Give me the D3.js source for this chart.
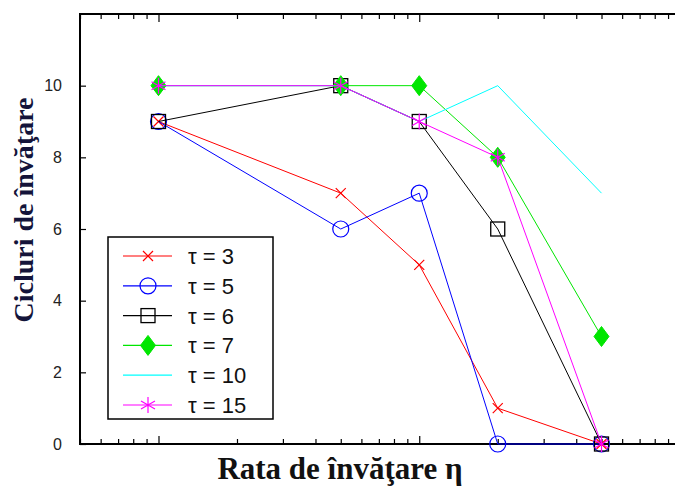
<!DOCTYPE html>
<html>
<head>
<meta charset="utf-8">
<title>Cicluri de învăţare</title>
<script src="https://cdn.jsdelivr.net/npm/d3@7"></script>
<style>
  body { margin: 0; background: #fff; }
  svg { display: block; }
  .tick text { font-family: Arial, "Liberation Sans", sans-serif; font-size: 16px; fill: #222; }
  .title { font-family: "Times New Roman", "Liberation Serif", serif; font-weight: bold; fill: #111; }
  .leg text { font-family: Arial, "Liberation Sans", sans-serif; font-size: 22px; fill: #111; }
</style>
</head>
<body>
<div id="chart"></div>
<script>
// learning rates (log axis, no labels in the original)
var rates = [0.001, 0.005, 0.01, 0.02, 0.05];
var taus = ["3", "5", "6", "7", "10", "15"];
var cycles3 = [9, 7, 5, 1, 0];
var cycles5 = [9, 6, 7, 0, 0];
var cycles6 = [9, 10, 9, 6, 0];
var cycles7 = [10, 10, 10, 8, 3];
var cycles10 = [10, 10, 9, 10, 7];
var cycles15 = [10, 10, 9, 8, 0];
var yTicks = [0, 2, 4, 6, 8, 10];

var series = [
  {tau: taus[0], vals: cycles3, color: "#ff0000", mark: "x"},
  {tau: taus[1], vals: cycles5, color: "#0000ff", mark: "circle"},
  {tau: taus[2], vals: cycles6, color: "#000000", mark: "square"},
  {tau: taus[3], vals: cycles7, color: "#00e600", mark: "diamond"},
  {tau: taus[4], vals: cycles10, color: "#00ffff", mark: "none"},
  {tau: taus[5], vals: cycles15, color: "#ff00ff", mark: "star"}
];

var W = 675, H = 488;
var pLeft = 80, pTop = 14, pBottom = 444, pRight = 680;

var svg = d3.select("#chart").append("svg")
  .attr("width", W).attr("height", H);

var x = d3.scaleLog().domain([0.0005, 0.1]).range([pLeft, pRight]);
var y = d3.scaleLinear().domain([0, 12]).range([pBottom, pTop]);

// x ticks (bottom + mirrored on top), no labels
var xt = x.ticks();
function isMajor(d) { return Math.abs(Math.log10(d) - Math.round(Math.log10(d))) < 1e-6; }

svg.append("g")
  .attr("transform", "translate(0," + pBottom + ")")
  .call(d3.axisBottom(x).tickValues(xt).tickFormat("").tickSizeOuter(0).tickSize(-5))
  .call(function(g) {
    g.select(".domain").remove();
    g.selectAll(".tick line").attr("y2", function(d) { return isMajor(d) ? -8 : -5; })
      .attr("stroke", "#000").attr("stroke-width", 1.2);
  });

svg.append("g")
  .attr("transform", "translate(0," + pTop + ")")
  .call(d3.axisTop(x).tickValues(xt).tickFormat("").tickSizeOuter(0).tickSize(-5))
  .call(function(g) {
    g.select(".domain").remove();
    g.selectAll(".tick line").attr("y2", function(d) { return isMajor(d) ? 8 : 5; })
      .attr("stroke", "#000").attr("stroke-width", 1.2);
  });

svg.append("g")
  .attr("transform", "translate(" + pLeft + ",0)")
  .call(d3.axisLeft(y).tickValues(yTicks).tickSize(-6).tickPadding(18).tickSizeOuter(0))
  .call(function(g) {
    g.select(".domain").remove();
    g.selectAll(".tick line").attr("stroke", "#000").attr("stroke-width", 1.2);
  });

// frame
svg.append("path")
  .attr("d", "M" + pRight + "," + pTop + "H" + pLeft + "V" + pBottom + "H" + pRight)
  .attr("fill", "none").attr("stroke", "#000").attr("stroke-width", 2);

var line = d3.line()
  .x(function(d, i) { return x(rates[i]); })
  .y(function(d) { return y(d); });

function drawMark(g, type, color) {
  if (type === "x") {
    g.append("path").attr("d", "M-5,-5L5,5M-5,5L5,-5")
      .attr("stroke", color).attr("stroke-width", 1.2).attr("fill", "none");
  } else if (type === "circle") {
    g.append("circle").attr("r", 8)
      .attr("stroke", color).attr("stroke-width", 1.2).attr("fill", "none");
  } else if (type === "square") {
    g.append("rect").attr("x", -7).attr("y", -7).attr("width", 14).attr("height", 14)
      .attr("stroke", color).attr("stroke-width", 1.3).attr("fill", "none");
  } else if (type === "diamond") {
    g.append("path").attr("d", "M0,-10L7.5,0L0,10L-7.5,0Z")
      .attr("fill", color).attr("stroke", color);
  } else if (type === "star") {
    g.append("path").attr("d", "M0,-8V8M-7,-4L7,4M-7,4L7,-4")
      .attr("stroke", color).attr("stroke-width", 1.2).attr("fill", "none");
  }
}

var plot = svg.append("g");
series.forEach(function(s) {
  plot.append("path")
    .attr("d", line(s.vals))
    .attr("fill", "none")
    .attr("stroke", s.color)
    .attr("stroke-width", 1);
  s.vals.forEach(function(v, i) {
    var g = plot.append("g").attr("transform", "translate(" + x(rates[i]) + "," + y(v) + ")");
    drawMark(g, s.mark, s.color);
  });
});

// legend
var leg = svg.append("g").attr("class", "leg");
leg.append("rect")
  .attr("x", 108).attr("y", 237).attr("width", 165).attr("height", 182)
  .attr("fill", "#fff").attr("stroke", "#000").attr("stroke-width", 1.5);
series.forEach(function(s, i) {
  var yy = 256 + i * 29.8;
  leg.append("line").attr("x1", 123).attr("x2", 172).attr("y1", yy).attr("y2", yy)
    .attr("stroke", s.color).attr("stroke-width", 1.2);
  drawMark(leg.append("g").attr("transform", "translate(148," + yy + ")"), s.mark, s.color);
  leg.append("text").attr("x", 188).attr("y", yy + 8).text("\u03c4 = " + s.tau);
});

// axis titles
svg.append("text").attr("class", "title")
  .attr("x", 340).attr("y", 479)
  .attr("text-anchor", "middle")
  .style("font-size", "31px")
  .text("Rata de învăţare η");

svg.append("text").attr("class", "title")
  .attr("transform", "translate(33,210) rotate(-90)")
  .attr("text-anchor", "middle")
  .style("font-size", "28px")
  .style("fill", "#14143a")
  .text("Cicluri de învăţare");
</script>
</body>
</html>
